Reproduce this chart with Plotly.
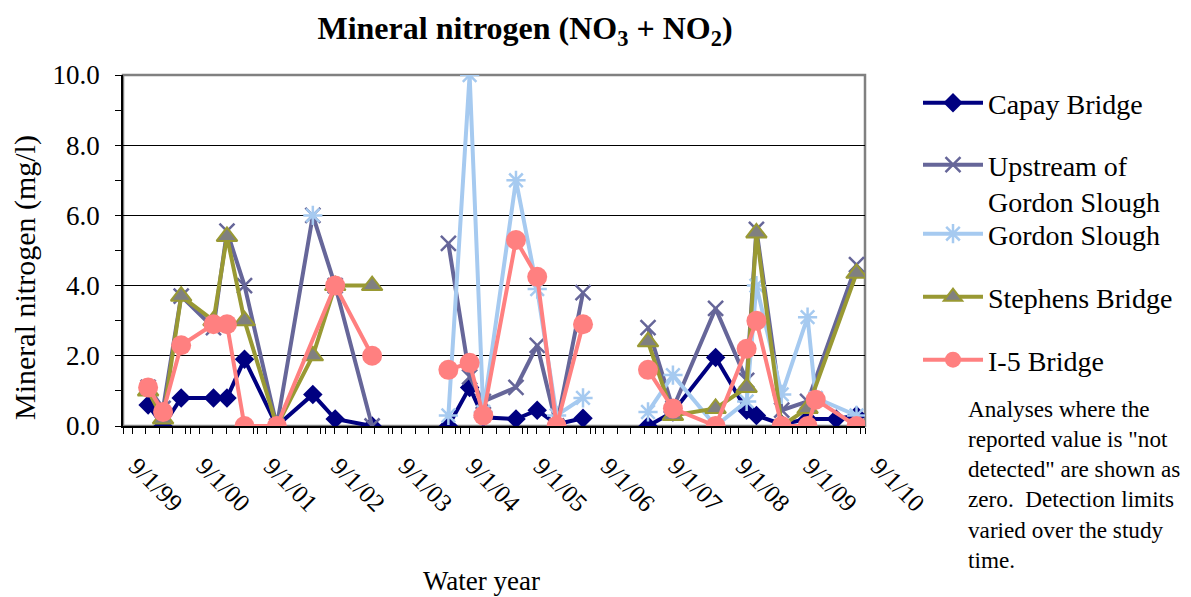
import plotly.graph_objects as go

# ---------------- data ----------------
sample_dates = [
    "2000-01-15", "2000-04-05", "2000-07-12", "2001-01-03", "2001-03-17",
    "2001-06-20", "2001-12-12", "2002-06-25", "2002-10-24", "2003-05-12",
    "2003-12-01",
    "2004-06-28", "2004-10-21", "2005-01-03", "2005-06-29", "2005-10-22",
    "2006-02-04", "2006-06-27",
    "2006-12-15",
    "2007-06-14", "2007-10-27", "2008-06-14", "2008-11-29", "2009-01-21",
    "2009-06-07", "2009-10-25", "2009-12-08", "2010-03-29", "2010-07-17",
]
# dates with no sampling at all (series break there)
gap_dates = ["2003-12-01", "2006-12-15"]

capay = [0.6, 0.0, 0.8, 0.8, 0.8, 1.9, 0.0, 0.9, 0.2, 0.0,
         None,
         0.0, 1.1, 0.25, 0.2, 0.45, 0.05, 0.22,
         None,
         0.0, 0.4, 1.95, 0.45, 0.3, 0.05, 0.2, None, 0.2, 0.3]
upstream = [1.1, 0.5, 3.7, 2.8, 5.55, 4.0, 0.0, 6.0, 4.0, 0.0,
            None,
            5.2, 1.4, 0.7, 1.1, 2.3, 0.0, 3.8,
            None,
            2.8, 0.5, 3.35, 1.3, 5.6, 0.45, 0.7, None, None, 4.6]
gordon = [None, None, None, None, None, None, None, 6.0, None, None,
          None,
          0.3, 10.0, 0.4, 7.0, 3.9, 0.3, 0.8,
          None,
          0.4, 1.45, 0.0, 0.7, 4.0, 0.9, 3.1, 0.8, None, 0.3]
stephens = [1.0, 0.2, 3.7, 3.0, 5.4, 3.0, 0.0, 2.0, 4.0, 4.0,
            None,
            None, None, None, None, None, None, None,
            None,
            2.4, 0.3, 0.5, 1.1, 5.5, 0.0, 0.5, None, None, 4.35]
i5 = [1.1, 0.4, 2.3, 2.9, 2.9, 0.0, 0.0, None, 4.0, 2.0,
      None,
      1.6, 1.8, 0.3, 5.3, 4.25, 0.0, 2.9,
      None,
      1.6, 0.5, 0.0, 2.2, 3.0, 0.0, 0.0, 0.75, None, 0.0]

series_names = ["Capay Bridge", "Upstream of<br>Gordon Slough", "Gordon Slough",
                "Stephens Bridge", "I-5 Bridge"]
x_tick_start = "1999-09-01"
x_end = "2010-09-01"
y_ticks = [0, 2, 4, 6, 8, 10]

note_text = ("Analyses where the<br>reported value is \"not<br>detected\" are shown as<br>"
             "zero.  Detection limits<br>varied over the study<br>time.")

# ---------------- layout constants ----------------
OFF = 8                       # page body margin of the html page
W, H = 1191 - OFF, 597 - OFF  # figure size
L, R, T, B = 123 - OFF, 865 - OFF, 75 - OFF, 426 - OFF
FONT = "Liberation Serif, Times New Roman, serif"


def px2paper_x(px):
    return (px - OFF - L) / (R - L)


def px2paper_y(py):
    return (B - (py - OFF)) / (B - T)


def keep(vals):
    xs, ys = [], []
    for d, v in zip(sample_dates, vals):
        if v is not None or d in gap_dates:
            xs.append(d)
            ys.append(v)
    return xs, ys


styles = [
    dict(line=dict(color="#000080", width=4),
         marker=dict(symbol="diamond", size=15, color="#000080")),
    dict(line=dict(color="#666699", width=4),
         marker=dict(symbol="x-thin-open", size=15, color="#666699",
                     line=dict(color="#666699", width=2.5))),
    dict(line=dict(color="#A6CAF0", width=4),
         marker=dict(symbol="asterisk-open", size=16, color="#A6CAF0",
                     line=dict(color="#A6CAF0", width=2.5))),
    dict(line=dict(color="#999933", width=4),
         marker=dict(symbol="triangle-up", size=18, color="#808080",
                     line=dict(color="#999933", width=2))),
    dict(line=dict(color="#FF8080", width=4),
         marker=dict(symbol="circle", size=20, color="#FF8080")),
]

legend_ids = ["legend", "legend2", "legend3", "legend4", "legend5"]
legend_centers = [103, 183, 234, 297, 360]

fig = go.Figure()
for name, vals, st, lid in zip(series_names, [capay, upstream, gordon, stephens, i5],
                               styles, legend_ids):
    xs, ys = keep(vals)
    fig.add_trace(go.Scatter(x=xs, y=ys, name=name, mode="lines+markers",
                             connectgaps=False, legend=lid, **st))

legend_common = dict(font=dict(family=FONT, size=28, color="black"),
                     bgcolor="rgba(0,0,0,0)", borderwidth=0,
                     xanchor="left", yanchor="middle", itemwidth=60,
                     x=px2paper_x(918))
lay = {}
for lid, cy in zip(legend_ids, legend_centers):
    d = dict(legend_common)
    d["y"] = px2paper_y(cy)
    if lid == "legend2":
        d["valign"] = "top"
    lay[lid] = d

fig.update_layout(
    width=W, height=H,
    margin=dict(l=L, r=W - R, t=T, b=H - B, autoexpand=False),
    paper_bgcolor="white", plot_bgcolor="white",
    font=dict(family=FONT, size=25, color="black"),
    showlegend=True,
    title=dict(text="<b>Mineral nitrogen (NO<sub>3</sub> + NO<sub>2</sub>)</b>",
               x=(525 - OFF) / W, xref="container", xanchor="center",
               y=1 - (28 - OFF) / H, yref="container", yanchor="middle",
               font=dict(family=FONT, size=32, color="black")),
    xaxis=dict(type="date", range=[x_tick_start, x_end],
               tickmode="linear", tick0=x_tick_start, dtick="M12",
               tickformat="%-m/%-d/%y", tickangle=45,
               ticklabelshift=13, ticklabelstandoff=8,
               ticks="outside", ticklen=6, tickcolor="black",
               showline=True, linecolor="black", linewidth=1.5,
               showgrid=False, zeroline=False,
               tickfont=dict(family=FONT, size=25),
               minor=dict(ticks="outside", ticklen=6, tickcolor="black",
                          dtick=73 * 86400000, showgrid=False)),
    yaxis=dict(range=[0, 10], tickvals=y_ticks, tickformat=".1f",
               ticks="outside", ticklen=6, tickcolor="black",
               ticklabelstandoff=10,
               showline=True, linecolor="black", linewidth=1.5,
               showgrid=True, gridcolor="black", gridwidth=1,
               zeroline=False,
               tickfont=dict(family=FONT, size=27),
               minor=dict(ticks="outside", ticklen=6, tickcolor="black",
                          dtick=1, showgrid=False)),
    **lay,
)

# plot-area border (grey, top/right)
fig.add_shape(type="rect", xref="paper", yref="paper", x0=0, x1=1, y0=0, y1=1,
              line=dict(color="#808080", width=2.5), layer="between")

# axis titles
fig.add_annotation(text="Water year", xref="paper", yref="paper",
                   x=px2paper_x(481), y=px2paper_y(581), showarrow=False,
                   xanchor="center", yanchor="middle",
                   font=dict(family=FONT, size=27))
fig.add_annotation(text="Mineral nitrogen (mg/l)", xref="paper", yref="paper",
                   x=px2paper_x(25), y=px2paper_y(278), showarrow=False,
                   textangle=-90, xanchor="center", yanchor="middle",
                   font=dict(family=FONT, size=30))
# note
fig.add_annotation(text=note_text, xref="paper", yref="paper",
                   x=px2paper_x(966), y=px2paper_y(394), showarrow=False,
                   xanchor="left", yanchor="top", align="left",
                   font=dict(family=FONT, size=23.2))

fig.write_html("out.html")
